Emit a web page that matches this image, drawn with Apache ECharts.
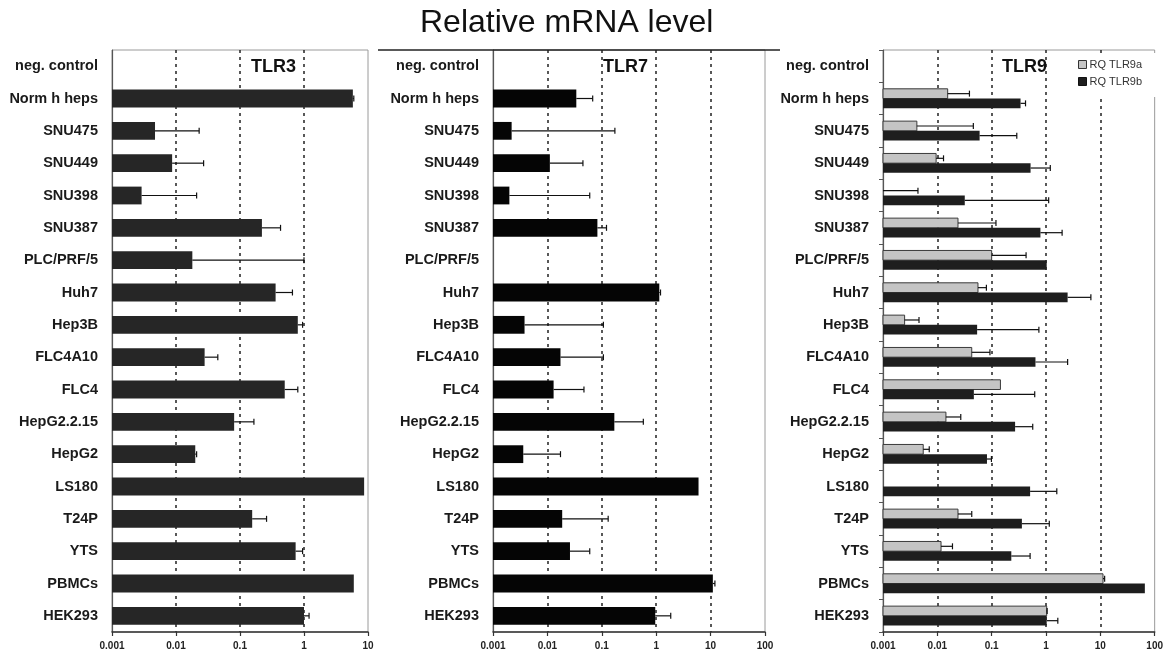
<!DOCTYPE html>
<html><head><meta charset="utf-8">
<script src="https://cdn.jsdelivr.net/npm/echarts@6/dist/echarts.min.js"></script>
<style>html,body{margin:0;padding:0;background:#fff}#c{width:1166px;height:655px}</style>
</head><body><div id="c"></div>
<script>
const categories = ['neg. control','Norm h heps','SNU475','SNU449','SNU398','SNU387','PLC/PRF/5','Huh7','Hep3B','FLC4A10','FLC4','HepG2.2.15','HepG2','LS180','T24P','YTS','PBMCs','HEK293'];

const tlr3Values = [null, 5.8, 0.0047, 0.0087, 0.0029, 0.22, 0.018, 0.36, 0.80, 0.028, 0.50, 0.081, 0.020, 8.7, 0.155, 0.74, 6.0, 1.0];
const tlr3Errors = [null, 6.0, 0.023, 0.027, 0.021, 0.43, 1.0, 0.66, 0.95, 0.045, 0.80, 0.165, 0.021, null, 0.26, 0.95, null, 1.2];

const tlr7Values = [null, 0.034, 0.0022, 0.0111, 0.0020, 0.083, null, 1.14, 0.0038, 0.0174, 0.013, 0.17, 0.0036, 6.0, 0.0187, 0.026, 11, 0.96];
const tlr7Errors = [null, 0.068, 0.174, 0.045, 0.06, 0.122, null, 1.2, 0.107, 0.107, 0.047, 0.58, 0.0174, null, 0.131, 0.06, 12, 1.85];

const tlr9aValues = [null, 0.0155, 0.0042, 0.0095, 0.001, 0.024, 0.10, 0.056, 0.0025, 0.043, 0.145, 0.0144, 0.0055, null, 0.024, 0.0117, 11.2, 1.03];
const tlr9aErrors = [null, 0.039, 0.046, 0.013, 0.0044, 0.12, 0.43, 0.08, 0.0046, 0.093, null, 0.027, 0.0071, null, 0.043, 0.019, 12, 1.05];
const tlr9bValues = [null, 0.34, 0.06, 0.52, 0.032, 0.79, 1.03, 2.5, 0.054, 0.64, 0.047, 0.27, 0.082, 0.51, 0.36, 0.23, 66, 1.03];
const tlr9bErrors = [null, 0.42, 0.29, 1.2, 1.12, 1.98, null, 6.7, 0.74, 2.5, 0.62, 0.57, 0.099, 1.58, 1.15, 0.51, null, 1.65];

const tickLabels = ['0.001','0.01','0.1','1','10','100'];
const panelNames = ['TLR3','TLR7','TLR9'];
const legendNames = ['RQ TLR9a','RQ TLR9b'];
const titleText = 'Relative mRNA level';

const AXIS_MIN = 0.001;
function fmt(v){ const i = Math.round(Math.log10(v)) + 3; return tickLabels[i] !== undefined ? tickLabels[i] : ''; }
function rows(vals, errs){
  const out = [];
  vals.forEach((v,i)=>{ if (v != null) out.push([i, v, errs[i] == null ? '-' : errs[i]]); });
  return out;
}
function makeRender(widthFrac, offsetFrac, fill, stroke){
  return function(params, api){
    const cat = api.value(0), v = api.value(1), e = api.value(2);
    const band = Math.abs(api.coord([AXIS_MIN, 1])[1] - api.coord([AXIS_MIN, 0])[1]);
    const p = api.coord([v, cat]);
    const base = api.coord([AXIS_MIN, cat]);
    const h = band * widthFrac;
    const yc = p[1] + band * offsetFrac;
    const children = [];
    if (p[0] - base[0] > 0.3) {
      children.push({type:'rect', shape:{x: base[0], y: yc - h/2, width: p[0]-base[0], height: h},
        style:{fill: fill, stroke: stroke || null, lineWidth: stroke ? 1 : 0}});
    }
    if (isFinite(e)) {
      const xe = api.coord([e, cat])[0];
      children.push({type:'line', shape:{x1: p[0], y1: yc, x2: xe, y2: yc}, style:{stroke:'#111', lineWidth:1.2}});
      children.push({type:'line', shape:{x1: xe, y1: yc-3, x2: xe, y2: yc+3}, style:{stroke:'#111', lineWidth:1.2}});
    }
    return {type:'group', children};
  };
}

const grids = [
  {left:112, top:50, width:256, height:582},
  {left:493, top:50, width:272, height:582},
  {left:883, top:50, width:273, height:582}
].map(g => Object.assign({show:true, borderColor:'#9a9a9a', borderWidth:1, backgroundColor:'transparent'}, g));

function xAxis(idx, max){
  return {type:'log', logBase:10, gridIndex:idx, min:AXIS_MIN, max:max,
    axisLine:{show:true, lineStyle:{color:'#333', width:1.5}},
    axisTick:{show:true, length:4, lineStyle:{color:'#333', width:1.2}},
    minorTick:{show:false},
    axisLabel:{formatter: fmt, fontSize:10, fontWeight:'bold', color:'#222', margin:9, fontFamily:'Liberation Sans, Arial'},
    splitLine:{show:true, showMinLine:false, showMaxLine:false, lineStyle:{type:[3,4], color:'#222', width:1.5}}
  };
}
function yAxis(idx, ticks){
  return {type:'category', gridIndex:idx, data:categories, inverse:true,
    axisLine:{show:true, lineStyle:{color:'#555', width:1.2}},
    axisTick:{show:ticks, length:4, lineStyle:{color:'#555'}},
    axisLabel:{interval:0, fontSize:14.5, fontWeight:'bold', color:'#1a1a1a', margin:14, fontFamily:'Liberation Sans, Arial'},
    splitLine:{show:false}
  };
}

const option = {
  animation:false,
  backgroundColor:'#fff',
  title:[
    {text:titleText, left:420, top:7, padding:0, textStyle:{fontSize:32, fontWeight:'normal', color:'#111', fontFamily:'Liberation Sans, Arial'}},
    {text:panelNames[0], left:251, top:58, padding:0, textStyle:{fontSize:18, fontWeight:'bold', color:'#111', fontFamily:'Liberation Sans, Arial'}},
    {text:panelNames[1], left:603, top:58, padding:0, textStyle:{fontSize:18, fontWeight:'bold', color:'#111', fontFamily:'Liberation Sans, Arial'}},
    {text:panelNames[2], left:1002, top:58, padding:0, textStyle:{fontSize:18, fontWeight:'bold', color:'#111', fontFamily:'Liberation Sans, Arial'}}
  ],
  legend:{orient:'vertical', left:1074, top:53, padding:[6,20,10,4], itemGap:6, itemWidth:8, itemHeight:8,
    backgroundColor:'#fff', icon:'rect',
    textStyle:{fontSize:11, color:'#333', fontFamily:'Liberation Sans, Arial', padding:[0,0,0,-2]},
    data:[
      {name:legendNames[0], itemStyle:{color:'#c4c4c4', borderColor:'#333', borderWidth:1}},
      {name:legendNames[1], itemStyle:{color:'#1e1e1e', borderColor:'#111', borderWidth:1}}
    ]},
  grid: grids,
  xAxis:[xAxis(0,10), xAxis(1,100), xAxis(2,100)],
  yAxis:[yAxis(0,false), yAxis(1,false), yAxis(2,true)],
  graphic:[
    {type:'line', shape:{x1:378, y1:50, x2:780, y2:50}, style:{stroke:'#222', lineWidth:1.5}, z:100}
  ],
  series:[
    {type:'custom', name:'TLR3', xAxisIndex:0, yAxisIndex:0, data:rows(tlr3Values, tlr3Errors), encode:{x:[1,2], y:0},
      itemStyle:{color:'#262626'}, renderItem: makeRender(0.55, 0, '#262626', null)},
    {type:'custom', name:'TLR7', xAxisIndex:1, yAxisIndex:1, data:rows(tlr7Values, tlr7Errors), encode:{x:[1,2], y:0},
      itemStyle:{color:'#050505'}, renderItem: makeRender(0.55, 0, '#050505', null)},
    {type:'custom', name:legendNames[0], xAxisIndex:2, yAxisIndex:2, data:rows(tlr9aValues, tlr9aErrors), encode:{x:[1,2], y:0},
      itemStyle:{color:'#c4c4c4'}, renderItem: makeRender(0.3, -0.15, '#c4c4c4', '#3a3a3a')},
    {type:'custom', name:legendNames[1], xAxisIndex:2, yAxisIndex:2, data:rows(tlr9bValues, tlr9bErrors), encode:{x:[1,2], y:0},
      itemStyle:{color:'#1e1e1e'}, renderItem: makeRender(0.3, 0.15, '#1e1e1e', null)}
  ]
};
const chart = echarts.init(document.getElementById('c'), null, {renderer:'canvas'});
chart.setOption(option);
</script></body></html>
